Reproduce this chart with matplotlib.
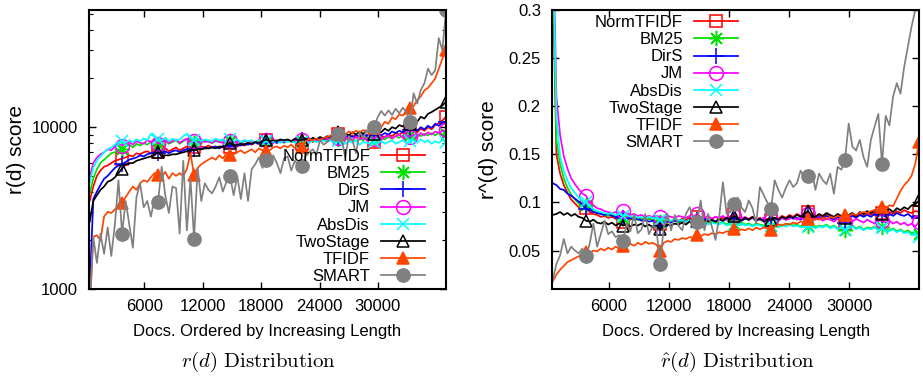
import matplotlib
matplotlib.use("Agg")
import matplotlib.pyplot as plt
from matplotlib.ticker import FixedLocator, NullFormatter, LogLocator

plt.rcParams['font.family'] = ['Liberation Sans', 'DejaVu Sans']
plt.rcParams['mathtext.fontset'] = 'cm'

# x positions: documents ordered by increasing length (bins of 370 docs)
docs = list(range(370, 37001, 370))

series_names = ["NormTFIDF", "BM25", "DirS", "JM", "AbsDis", "TwoStage", "TFIDF", "SMART"]

# ---------------- r(d) (left panel) ----------------
r_normtfidf = [3500, 4300, 5000, 5400, 5700, 5800, 6000, 6200, 6300, 6400,
               6500, 6700, 6600, 6900, 6800, 7000, 7100, 6900, 7200, 7040,
               7200, 7400, 7100, 7300, 7500, 7200, 7400, 7600, 7300, 7560,
               7400, 7600, 7500, 7700, 7500, 7600, 7400, 7700, 7500, 7560,
               7700, 7600, 7800, 7700, 7900, 7800, 8000, 7900, 8100, 8310,
               8100, 8200, 8000, 8200, 8100, 8300, 8100, 8200, 8000, 7920,
               8200, 8300, 8100, 8400, 8300, 8500, 8400, 8700, 8600, 9140,
               8600, 8800, 8500, 8900, 8600, 8800, 8400, 8700, 8500, 8110,
               8600, 8800, 8700, 9000, 8800, 9200, 9000, 9300, 9100, 9400,
               9600, 9300, 9800, 9500, 10000, 9700, 10300, 10600, 11000, 11590]
r_bm25 = [3900, 4800, 5500, 6000, 6300, 6600, 6900, 7000, 7200, 7300,
          7600, 7800, 7500, 7900, 7700, 8000, 7800, 8100, 8300, 7900,
          8000, 8200, 7900, 8100, 8300, 7900, 8200, 8400, 8100, 8000,
          8200, 8000, 8300, 8100, 8000, 8200, 8100, 8300, 8000, 8200,
          8100, 8300, 8000, 8200, 8100, 8200, 8000, 8300, 8100, 8200,
          8300, 8100, 8300, 8200, 8000, 8300, 8200, 8100, 8300, 8200,
          8400, 8200, 8300, 8100, 8400, 8300, 8200, 8500, 8300, 8400,
          8200, 8500, 8300, 8400, 8200, 8500, 8300, 8600, 8400, 8500,
          8300, 8600, 8400, 8700, 8500, 8800, 8600, 8900, 8700, 9000,
          8700, 9000, 8800, 9100, 8900, 9200, 8900, 9300, 9000, 9140]
r_dirs = [1000, 3600, 4000, 4400, 4800, 5000, 5300, 5600, 5800, 5900,
          6100, 6300, 6400, 6500, 6700, 6600, 6800, 6900, 7000, 6900,
          7000, 7100, 6900, 7100, 7200, 7000, 7200, 7300, 7100, 7300,
          7400, 7300, 7500, 7400, 7500, 7600, 7400, 7600, 7500, 7700,
          7600, 7800, 7700, 7900, 7800, 7900, 8000, 7900, 8100, 8000,
          8100, 8200, 8000, 8200, 8100, 8300, 8200, 8300, 8100, 8300,
          8400, 8200, 8400, 8300, 8500, 8400, 8600, 8500, 8700, 8600,
          8800, 8600, 8900, 8700, 8900, 8800, 9000, 8800, 9100, 8900,
          9100, 8900, 9200, 9000, 9400, 9200, 9500, 9300, 9700, 9600,
          9800, 9500, 10000, 9700, 10200, 9900, 10500, 10200, 10700, 10800]
r_jm = [4900, 6000, 6500, 6800, 7000, 7300, 7200, 7600, 7900, 7700,
        7900, 8100, 7800, 8200, 8000, 7900, 8300, 8100, 8400, 7900,
        8100, 8300, 8000, 8200, 8400, 8000, 8300, 8500, 8100, 8200,
        8000, 8300, 8100, 8200, 8000, 8300, 8100, 8000, 8300, 8200,
        8000, 8200, 8100, 8300, 8000, 8200, 8100, 8300, 8200, 8300,
        8100, 8200, 8300, 8200, 8100, 8300, 8200, 8400, 8200, 8300,
        8400, 8200, 8500, 8300, 8400, 8600, 8400, 8700, 8500, 8600,
        8400, 8700, 8500, 8300, 8800, 8400, 8600, 8300, 8700, 8500,
        8800, 8400, 8700, 8900, 8500, 8800, 9000, 8600, 8900, 8710,
        9000, 8700, 9200, 8900, 9300, 9000, 9400, 9200, 9500, 9580]
r_absdis = [4500, 5600, 6200, 6600, 7000, 7300, 7500, 7800, 8100, 8200,
            8000, 8300, 8100, 8400, 8200, 8500, 8300, 9100, 8700, 8400,
            8300, 8600, 8200, 8500, 8300, 8400, 8800, 9100, 8600, 8300,
            8500, 8200, 8400, 8300, 8200, 8500, 8300, 8400, 8100, 8400,
            8200, 8400, 8100, 8300, 8200, 8300, 8000, 8300, 8100, 8200,
            8300, 8100, 8200, 8000, 8300, 8100, 8200, 8000, 8200, 8100,
            8200, 8000, 8300, 8100, 8200, 8300, 8100, 8300, 8000, 8200,
            8300, 7900, 8200, 8000, 8300, 7800, 8100, 8000, 7900, 8100,
            8000, 8200, 7900, 8100, 8300, 7900, 8100, 8300, 8000, 8200,
            8300, 8000, 8400, 8100, 8300, 7900, 8200, 8000, 8300, 8110]
r_twostage = [2600, 3500, 3800, 4100, 4300, 4600, 4700, 4900, 5200, 5550,
              5900, 6000, 6000, 6200, 6300, 6400, 6500, 6600, 6700, 7040,
              6600, 6700, 6700, 6800, 6800, 6900, 7000, 7100, 7200, 7210,
              7300, 7300, 7400, 7400, 7500, 7400, 7600, 7500, 7700, 8000,
              7700, 7800, 7900, 7800, 8000, 7900, 8100, 8000, 8200, 8390,
              8200, 8300, 8200, 8400, 8300, 8400, 8200, 8500, 8300, 8310,
              8500, 8300, 8600, 8400, 8700, 8500, 8800, 8600, 8900, 9360,
              8800, 9100, 8900, 9300, 9000, 9400, 9100, 9500, 9200, 9140,
              9600, 9300, 9800, 9500, 10000, 9800, 10300, 10100, 10700, 10500,
              11000, 10800, 11600, 11300, 12100, 12400, 12800, 13200, 13600, 14340]
r_tfidf = [800, 2100, 2150, 2000, 2800, 3000, 2950, 3100, 3250, 3380,
           3700, 4000, 4300, 4100, 4500, 4700, 4600, 4900, 5200, 5050,
           4900, 5300, 4800, 5200, 5000, 5200, 5000, 5500, 6900, 5050,
           5600, 5900, 6100, 6300, 6500, 6300, 6700, 6400, 6900, 6710,
           6800, 7000, 7200, 6900, 7100, 7300, 7000, 7400, 7200, 7140,
           7200, 7500, 7600, 7400, 7700, 7500, 7800, 7400, 8000, 7550,
           8200, 8400, 8300, 8500, 8300, 8600, 8700, 8900, 9000, 9140,
           9300, 9000, 9400, 9200, 9500, 9300, 9600, 9400, 9800, 9900,
           10200, 10000, 10800, 10500, 11500, 11200, 12000, 11800, 12500, 13100,
           13500, 14700, 15500, 16900, 17500, 18700, 20000, 23000, 26500, 29900]
r_smart = [700, 2100, 1450, 2200, 1650, 2400, 1600, 2500, 4700, 2200,
           3500, 2500, 1800, 3700, 4500, 3200, 3500, 2800, 3600, 3450,
           5700, 3800, 2950, 4300, 4200, 2200, 6200, 2300, 4800, 2050,
           5600, 3500, 4500, 4100, 3900, 4300, 4900, 4000, 4600, 4980,
           3800, 5000, 3600, 5200, 3500, 5500, 5900, 6500, 5600, 6250,
           5800, 6700, 6000, 5200, 6400, 6600, 5400, 6200, 5800, 5740,
           6600, 7000, 7300, 6800, 8300, 7800, 8100, 8600, 8200, 9140,
           8500, 6500, 8800, 8300, 6900, 9300, 8600, 9600, 9200, 10040,
           11500, 12600, 11800, 12700, 11900, 13000, 12200, 13200, 12400, 10740,
           16200, 14000, 17000, 18700, 23000, 21000, 22500, 35500, 29900, 52900]

# ---------------- r^(d) (right panel) ----------------
h_normtfidf = [0.34, 0.150, 0.130, 0.118, 0.110, 0.103, 0.099, 0.095, 0.093, 0.094,
               0.090, 0.088, 0.087, 0.085, 0.086, 0.084, 0.085, 0.083, 0.084, 0.080,
               0.083, 0.082, 0.084, 0.082, 0.083, 0.081, 0.083, 0.082, 0.080, 0.078,
               0.081, 0.082, 0.080, 0.082, 0.081, 0.083, 0.082, 0.084, 0.082, 0.085,
               0.083, 0.082, 0.084, 0.083, 0.085, 0.083, 0.084, 0.082, 0.085, 0.088,
               0.084, 0.082, 0.084, 0.083, 0.085, 0.082, 0.084, 0.081, 0.083, 0.082,
               0.084, 0.083, 0.086, 0.084, 0.087, 0.085, 0.088, 0.086, 0.087, 0.090,
               0.086, 0.085, 0.087, 0.085, 0.088, 0.086, 0.084, 0.087, 0.085, 0.078,
               0.085, 0.087, 0.085, 0.088, 0.086, 0.089, 0.087, 0.090, 0.088, 0.089,
               0.087, 0.090, 0.088, 0.091, 0.089, 0.092, 0.090, 0.089, 0.091, 0.090]
h_bm25 = [0.36, 0.165, 0.140, 0.125, 0.115, 0.108, 0.103, 0.099, 0.096, 0.097,
          0.093, 0.091, 0.089, 0.088, 0.087, 0.086, 0.087, 0.085, 0.086, 0.084,
          0.085, 0.083, 0.084, 0.082, 0.083, 0.081, 0.083, 0.082, 0.081, 0.080,
          0.081, 0.082, 0.080, 0.081, 0.079, 0.081, 0.080, 0.082, 0.080, 0.081,
          0.079, 0.080, 0.078, 0.080, 0.079, 0.078, 0.080, 0.077, 0.079, 0.078,
          0.077, 0.079, 0.077, 0.078, 0.076, 0.078, 0.077, 0.076, 0.078, 0.076,
          0.077, 0.075, 0.077, 0.076, 0.078, 0.076, 0.077, 0.075, 0.077, 0.075,
          0.076, 0.074, 0.076, 0.075, 0.077, 0.074, 0.076, 0.073, 0.075, 0.071,
          0.074, 0.076, 0.073, 0.075, 0.072, 0.074, 0.073, 0.075, 0.072, 0.074,
          0.072, 0.071, 0.073, 0.070, 0.072, 0.069, 0.071, 0.068, 0.069, 0.067]
h_dirs = [0.120, 0.118, 0.114, 0.113, 0.109, 0.107, 0.104, 0.101, 0.098, 0.093,
          0.092, 0.090, 0.089, 0.088, 0.087, 0.088, 0.086, 0.085, 0.086, 0.084,
          0.083, 0.084, 0.082, 0.083, 0.081, 0.082, 0.080, 0.081, 0.079, 0.075,
          0.079, 0.080, 0.079, 0.081, 0.080, 0.082, 0.080, 0.081, 0.079, 0.082,
          0.081, 0.083, 0.081, 0.082, 0.080, 0.082, 0.081, 0.083, 0.082, 0.084,
          0.082, 0.081, 0.083, 0.082, 0.084, 0.081, 0.083, 0.082, 0.080, 0.082,
          0.083, 0.081, 0.084, 0.082, 0.085, 0.083, 0.084, 0.082, 0.085, 0.086,
          0.084, 0.083, 0.085, 0.083, 0.086, 0.084, 0.082, 0.085, 0.083, 0.079,
          0.084, 0.086, 0.084, 0.087, 0.085, 0.087, 0.085, 0.088, 0.086, 0.087,
          0.085, 0.088, 0.086, 0.089, 0.087, 0.086, 0.088, 0.085, 0.086, 0.084]
h_jm = [0.40, 0.210, 0.170, 0.148, 0.135, 0.125, 0.119, 0.114, 0.109, 0.107,
        0.100, 0.097, 0.094, 0.093, 0.091, 0.090, 0.089, 0.090, 0.088, 0.091,
        0.088, 0.087, 0.088, 0.086, 0.087, 0.085, 0.086, 0.085, 0.086, 0.085,
        0.084, 0.086, 0.085, 0.084, 0.086, 0.085, 0.084, 0.086, 0.085, 0.088,
        0.085, 0.084, 0.086, 0.083, 0.085, 0.084, 0.086, 0.083, 0.085, 0.086,
        0.084, 0.083, 0.085, 0.082, 0.084, 0.083, 0.082, 0.084, 0.081, 0.082,
        0.083, 0.081, 0.084, 0.082, 0.083, 0.085, 0.082, 0.084, 0.083, 0.088,
        0.083, 0.082, 0.084, 0.081, 0.083, 0.082, 0.080, 0.083, 0.081, 0.080,
        0.082, 0.080, 0.083, 0.081, 0.079, 0.082, 0.080, 0.078, 0.081, 0.081,
        0.079, 0.081, 0.078, 0.080, 0.077, 0.079, 0.076, 0.078, 0.075, 0.080]
h_absdis = [0.38, 0.190, 0.148, 0.133, 0.123, 0.115, 0.110, 0.105, 0.101, 0.100,
            0.096, 0.093, 0.091, 0.090, 0.089, 0.088, 0.089, 0.087, 0.088, 0.086,
            0.087, 0.085, 0.086, 0.084, 0.085, 0.083, 0.085, 0.084, 0.083, 0.082,
            0.083, 0.082, 0.081, 0.083, 0.081, 0.082, 0.080, 0.081, 0.079, 0.080,
            0.078, 0.079, 0.077, 0.079, 0.078, 0.077, 0.079, 0.076, 0.078, 0.077,
            0.076, 0.078, 0.076, 0.077, 0.075, 0.077, 0.076, 0.075, 0.077, 0.075,
            0.076, 0.074, 0.076, 0.075, 0.077, 0.075, 0.076, 0.074, 0.075, 0.074,
            0.075, 0.073, 0.075, 0.074, 0.076, 0.073, 0.075, 0.072, 0.074, 0.071,
            0.073, 0.075, 0.072, 0.074, 0.071, 0.073, 0.072, 0.074, 0.071, 0.073,
            0.071, 0.070, 0.072, 0.069, 0.071, 0.068, 0.069, 0.066, 0.067, 0.064]
h_twostage = [0.087, 0.088, 0.090, 0.087, 0.089, 0.086, 0.088, 0.085, 0.084, 0.081,
              0.080, 0.082, 0.079, 0.078, 0.080, 0.077, 0.079, 0.076, 0.078, 0.076,
              0.077, 0.075, 0.077, 0.076, 0.078, 0.075, 0.077, 0.074, 0.076, 0.072,
              0.075, 0.077, 0.076, 0.078, 0.077, 0.079, 0.077, 0.080, 0.078, 0.081,
              0.079, 0.081, 0.080, 0.082, 0.080, 0.083, 0.081, 0.084, 0.082, 0.086,
              0.083, 0.081, 0.084, 0.082, 0.085, 0.081, 0.083, 0.080, 0.082, 0.082,
              0.084, 0.082, 0.085, 0.083, 0.086, 0.084, 0.087, 0.085, 0.088, 0.091,
              0.086, 0.085, 0.088, 0.086, 0.089, 0.087, 0.085, 0.088, 0.086, 0.084,
              0.087, 0.089, 0.086, 0.090, 0.088, 0.091, 0.089, 0.092, 0.090, 0.088,
              0.091, 0.093, 0.090, 0.094, 0.092, 0.095, 0.093, 0.097, 0.098, 0.102]
h_tfidf = [0.018, 0.025, 0.030, 0.034, 0.038, 0.040, 0.042, 0.044, 0.046, 0.048,
           0.047, 0.050, 0.049, 0.052, 0.050, 0.053, 0.051, 0.054, 0.052, 0.055,
           0.054, 0.057, 0.055, 0.058, 0.056, 0.059, 0.057, 0.058, 0.056, 0.050,
           0.058, 0.060, 0.059, 0.062, 0.061, 0.063, 0.062, 0.064, 0.063, 0.066,
           0.065, 0.067, 0.066, 0.068, 0.067, 0.069, 0.068, 0.070, 0.069, 0.072,
           0.070, 0.072, 0.071, 0.073, 0.071, 0.074, 0.072, 0.074, 0.073, 0.071,
           0.075, 0.077, 0.076, 0.078, 0.077, 0.079, 0.078, 0.080, 0.079, 0.083,
           0.081, 0.083, 0.082, 0.084, 0.083, 0.085, 0.084, 0.086, 0.085, 0.087,
           0.086, 0.088, 0.087, 0.089, 0.090, 0.089, 0.091, 0.092, 0.091, 0.095,
           0.094, 0.097, 0.096, 0.104, 0.112, 0.118, 0.122, 0.128, 0.140, 0.163]
h_smart = [0.019, 0.036, 0.045, 0.062, 0.047, 0.054, 0.050, 0.047, 0.052, 0.044,
           0.057, 0.078, 0.054, 0.067, 0.081, 0.067, 0.070, 0.064, 0.066, 0.060,
           0.078, 0.070, 0.088, 0.068, 0.072, 0.088, 0.067, 0.075, 0.074, 0.036,
           0.074, 0.088, 0.071, 0.087, 0.076, 0.071, 0.088, 0.095, 0.085, 0.080,
           0.102, 0.071, 0.088, 0.075, 0.061, 0.085, 0.121, 0.088, 0.090, 0.098,
           0.105, 0.095, 0.090, 0.102, 0.094, 0.078, 0.116, 0.108, 0.100, 0.0935,
           0.123, 0.113, 0.105, 0.115, 0.123, 0.116, 0.120, 0.133, 0.126, 0.1275,
           0.133, 0.113, 0.130, 0.123, 0.119, 0.130, 0.109, 0.137, 0.134, 0.1445,
           0.182, 0.158, 0.154, 0.165, 0.147, 0.137, 0.165, 0.179, 0.192, 0.1404,
           0.190, 0.180, 0.210, 0.224, 0.213, 0.241, 0.262, 0.283, 0.300, 0.360]

left_data = [r_normtfidf, r_bm25, r_dirs, r_jm, r_absdis, r_twostage, r_tfidf, r_smart]
right_data = [h_normtfidf, h_bm25, h_dirs, h_jm, h_absdis, h_twostage, h_tfidf, h_smart]

xtick_vals = [6000, 12000, 18000, 24000, 30000]
xtick_labels = ["6000", "12000", "18000", "24000", "30000"]
left_ytick_vals = [1000, 10000]
left_ytick_labels = ["1000", "10000"]
right_ytick_vals = [0.05, 0.1, 0.15, 0.2, 0.25, 0.3]
right_ytick_labels = ["0.05", "0.1", "0.15", "0.2", "0.25", "0.3"]

colors = ['#ff0000', '#00e000', '#0000ff', '#ff00ff', '#00ffff', '#000000', '#ff4500', '#808080']
styles = [
    dict(marker='s', mfc='none', ms=9),
    dict(marker=(8, 2, 0), ms=11),
    dict(marker='+', ms=11),
    dict(marker='o', mfc='none', ms=10),
    dict(marker='x', ms=9),
    dict(marker='^', mfc='none', ms=9),
    dict(marker='^', ms=9),
    dict(marker='o', ms=9.5),
]

W, H = 923, 377
fig = plt.figure(figsize=(W / 100, H / 100), dpi=100)
ax1 = fig.add_axes([89 / W, 1 - 289 / H, 357 / W, 279 / H])
ax2 = fig.add_axes([552 / W, 1 - 289 / H, 367 / W, 279 / H])

for ax, data in ((ax1, left_data), (ax2, right_data)):
    for name, vals, c, st in zip(series_names, data, colors, styles):
        ax.plot(docs, vals, color=c, lw=1.25, label=name, markevery=slice(9, None, 10),
                mec=c, mew=1.1, **st)
    ax.set_xlim(300, 37000)
    ax.set_xticks(xtick_vals)
    ax.set_xticklabels(xtick_labels)
    for s in ax.spines.values():
        s.set_linewidth(1.5)
    ax.tick_params(direction='in', top=True, right=True, length=5, width=1.0,
                   labelsize=12, pad=7)
    ax.tick_params(axis='y', pad=8)

ax1.set_yscale('log')
ax1.set_ylim(1000, 53000)
ax1.yaxis.set_major_locator(FixedLocator(left_ytick_vals))
ax1.set_yticklabels(left_ytick_labels)
ax1.yaxis.set_minor_locator(LogLocator(base=10, subs=[2, 3, 4, 5, 6, 7, 8, 9]))
ax1.yaxis.set_minor_formatter(NullFormatter())
ax1.tick_params(which='minor', direction='in', left=True, right=True, length=3, width=0.8)

ax2.set_ylim(0.01, 0.3)
ax2.set_yticks(right_ytick_vals)
ax2.set_yticklabels(right_ytick_labels)

leg_kw = dict(frameon=False, markerfirst=False, fontsize=12, borderpad=0, borderaxespad=0,
              handlelength=2.64, handletextpad=0.66, labelspacing=0.13, numpoints=1,
              loc='upper right', bbox_transform=fig.transFigure)
ax1.legend(bbox_to_anchor=(425 / W, 1 - 149 / H), **leg_kw)
ax2.legend(bbox_to_anchor=(738 / W, 1 - 15 / H), **leg_kw)

fig.text(267 / W, 1 - 331.5 / H, "Docs. Ordered by Increasing Length", ha='center', va='center', fontsize=12)
fig.text(736 / W, 1 - 331.5 / H, "Docs. Ordered by Increasing Length", ha='center', va='center', fontsize=12)
fig.text(17 / W, 1 - 150 / H, "r(d) score", rotation=90, ha='center', va='center', fontsize=15)
fig.text(488 / W, 1 - 150 / H, "r^(d) score", rotation=90, ha='center', va='center', fontsize=15)
fig.text(258 / W, 1 - 362 / H, r"$r(d)\ \mathrm{Distribution}$", ha='center', va='center', fontsize=15)
fig.text(737 / W, 1 - 362 / H, r"$\hat{r}(d)\ \mathrm{Distribution}$", ha='center', va='center', fontsize=15)

fig.savefig("out.png", dpi=100)
